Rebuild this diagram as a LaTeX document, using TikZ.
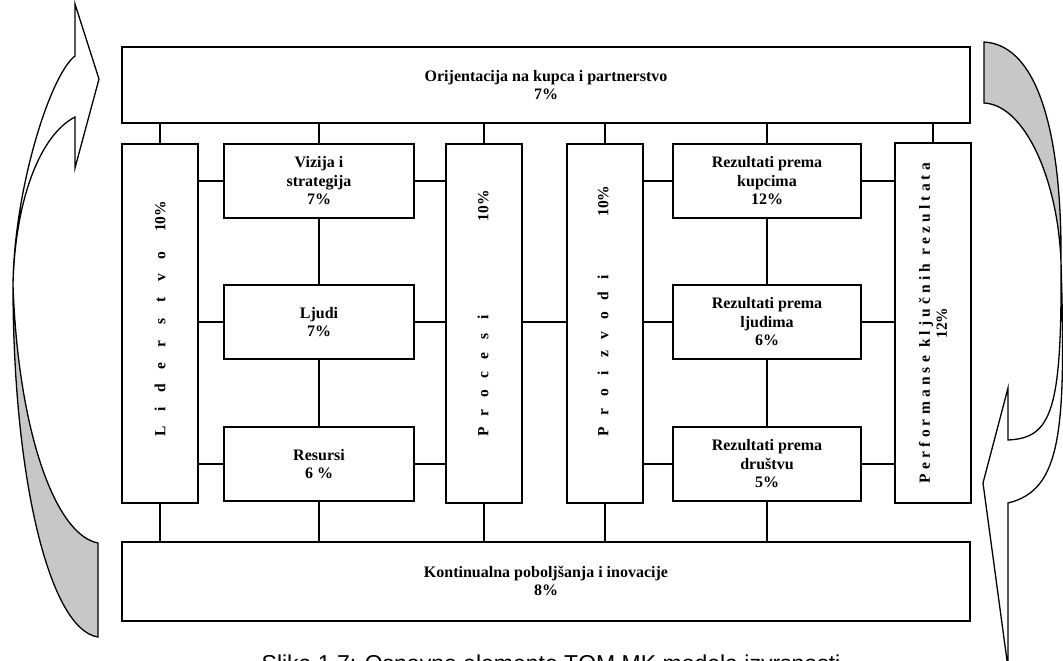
\documentclass[tikz,border=0pt]{standalone}
\usepackage{fontspec}
\setmainfont{Liberation Serif}
\newfontfamily\capfont{Liberation Sans}
\newfontfamily\lsfont[LetterSpace=27]{Liberation Serif}
\newcommand\lsp[2]{\makebox[#1pt]{#2}}
\tikzset{
  box/.style={draw, line width=2pt, fill=white, inner sep=2pt, align=center,
    font=\bfseries\fontsize{16}{18.5}\selectfont},
  conn/.style={line width=2pt},
  vtext/.style={rotate=90, inner sep=0pt, font=\bfseries\fontsize{15.5}{18}\selectfont},
  arr/.style={draw, line width=1.3pt, line join=miter}
}
\begin{document}
\begin{tikzpicture}[x=1pt,y=-1pt]
\useasboundingbox (0,0) rectangle (1063,661);
\clip (0,0) rectangle (1063,661);
\fill[white] (0,0) rectangle (1063,661);

% curved arrows
\draw[arr, fill=black!22] (13,285) .. controls (13,480) and (50,630) .. (98,637)
  -- (98,543) .. controls (55,535) and (18,430) .. (13,285) -- cycle;
\draw[arr, fill=white] (13,285) .. controls (14,190) and (50,75) .. (75,56)
  -- (75,4) -- (99,79) -- (75,168) -- (75,117)
  .. controls (40,135) and (15,200) .. (13,285) -- cycle;
\draw[arr, fill=black!22] (984,42) .. controls (1040,45) and (1062,140) .. (1061,262)
  .. controls (1058,180) and (1025,105) .. (984,103) -- cycle;
\draw[arr, fill=white] (1061,262) .. controls (1066,430) and (1062,490) .. (1008,503)
  -- (1008,668) -- (983,483) -- (1008,388) -- (1008,440)
  .. controls (1052,438) and (1062,410) .. (1061,262) -- cycle;

% boxes
\node[box, minimum width=848pt, minimum height=75pt] (top) at (546,85)
  {Orijentacija na kupca i partnerstvo\\7\%};
\node[box, minimum width=848pt, minimum height=79pt] (bot) at (546,581)
  {Kontinualna poboljšanja i inovacije\\8\%};
\node[box, minimum width=76pt, minimum height=359pt] (lid) at (160,323) {};
\node[box, minimum width=190pt, minimum height=74pt] (viz) at (319,181) {Vizija i\\strategija\\7\%};
\node[box, minimum width=190pt, minimum height=74pt] (lju) at (319,322) {Ljudi\\7\%};
\node[box, minimum width=190pt, minimum height=74pt] (res) at (319,464) {Resursi\\6 \%};
\node[box, minimum width=76pt, minimum height=359pt] (proc) at (484,323) {};
\node[box, minimum width=76pt, minimum height=359pt] (proiz) at (605,323) {};
\node[box, minimum width=188pt, minimum height=74pt] (rk) at (767,181) {Rezultati prema\\kupcima\\12\%};
\node[box, minimum width=188pt, minimum height=74pt] (rl) at (767,322) {Rezultati prema\\ljudima\\6\%};
\node[box, minimum width=188pt, minimum height=74pt] (rd) at (767,464) {Rezultati prema\\društvu\\5\%};
\node[box, minimum width=76pt, minimum height=360pt] (perf) at (933,323) {};

% vertical texts
\node[vtext, anchor=west] (lidt) at (160,443)
  {\lsp{22}{L}\lsp{22}{i}\lsp{22}{d}\lsp{22}{e}\lsp{22}{r}\lsp{22}{s}\lsp{22}{t}\lsp{22}{v}\lsp{22}{o}\hspace{13pt}10\%};
\node[vtext, anchor=west] (proct) at (483,441.5)
  {\lsp{19}{P}\lsp{19}{r}\lsp{19}{o}\lsp{19}{c}\lsp{19}{e}\lsp{19}{s}\lsp{19}{i}\hspace{87pt}10\%};
\node[vtext, anchor=west] (proizt) at (603,441.5)
  {\lsp{19.3}{P}\lsp{19.3}{r}\lsp{19.3}{o}\lsp{19.3}{i}\lsp{19.3}{z}\lsp{19.3}{v}\lsp{19.3}{o}\lsp{19.3}{d}\lsp{19.3}{i}\hspace{51pt}10\%};
\node[vtext, align=center, font=\fontsize{15.5}{17}\selectfont] (perft) at (933,323)
  {{\lsfont\bfseries Performanse ključnih rezultata}\\{\bfseries 12\%}};

% connectors to top box
\foreach \n in {lid,viz,proc,proiz,rk,perf}
  \draw[conn] (top.south -| \n.north) -- (\n.north);
% connectors to bottom box
\foreach \n in {lid,res,proc,proiz,rd}
  \draw[conn] (\n.south) -- (\n.south |- bot.north);
% horizontal
\foreach \n in {viz,lju,res}{
  \draw[conn] (lid.east |- \n.west) -- (\n.west);
  \draw[conn] (\n.east) -- (\n.east -| proc.west);
}
\draw[conn] (proc.east |- lju.east) -- (proiz.west |- lju.east);
\foreach \n in {rk,rl,rd}{
  \draw[conn] (proiz.east |- \n.west) -- (\n.west);
  \draw[conn] (\n.east) -- (\n.east -| perf.west);
}
% vertical
\draw[conn] (viz.south) -- (lju.north);
\draw[conn] (lju.south) -- (res.north);
\draw[conn] (rk.south) -- (rl.north);
\draw[conn] (rl.south) -- (rd.north);

% caption (cut off at bottom edge, as in the reference)
\node[font=\capfont\fontsize{23}{23}\selectfont, anchor=base, inner sep=0pt] (cap) at (551,671)
  {Slika 1.7: Osnovne elemente TQM MK modela izvrsnosti};
\end{tikzpicture}
\end{document}
